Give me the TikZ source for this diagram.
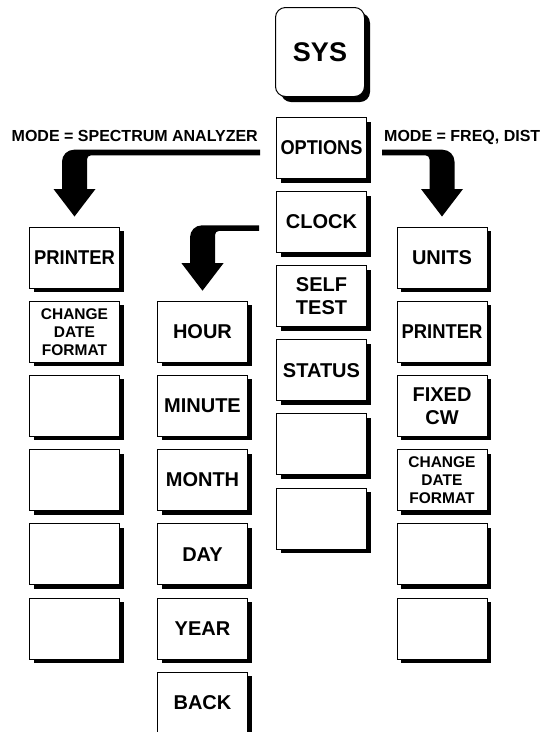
\documentclass[tikz,border=0pt]{standalone}
\usepackage{fontspec}
\setmainfont{Liberation Sans}
\usepackage{graphicx}
\usetikzlibrary{calc, shadows}

\begin{document}
\begin{tikzpicture}[
        x=1pt, y=1pt,
        keybox/.style={rectangle, draw=black, line width=1pt, fill=white, inner sep=0pt, align=center,
                       font=\bfseries\fontsize{20}{23}\selectfont},
        softkey/.style={keybox, minimum width=90pt, minimum height=61pt,
                        drop shadow={shadow xshift=4pt, shadow yshift=-4pt, fill=black, opacity=1}},
        hardkey/.style={keybox, minimum width=89pt, minimum height=89pt, rounded corners=10pt,
                        font=\bfseries\fontsize{27}{30}\selectfont,
                        drop shadow={shadow xshift=5.5pt, shadow yshift=-5.5pt, fill=black, opacity=1}},
        small/.style={font=\bfseries\fontsize{15.5}{18}\selectfont},
        mode/.style={inner sep=0pt, font=\bfseries\fontsize{16}{18}\selectfont},
        bentarrow/.style={fill=black}
    ]
    \path[use as bounding box, clip] (0,0) rectangle (544,-732);

    % hard key
    \node[hardkey] (sys) at (320,-52) {SYS};

    % SYS soft keys
    \node[softkey] (opt) at (321.5,-148) {\scalebox{0.91}[1]{OPTIONS}};
    \node[softkey] (clk) at (321.5,-222.1) {CLOCK};
    \node[softkey] (tst) at (321.5,-296.2) {SELF\\TEST};
    \node[softkey] (sta) at (321.5,-370.3) {STATUS};
    \node[softkey] (mb5) at (321.5,-444.4) {};
    \node[softkey] (mb6) at (321.5,-518.5) {};

    % options, spectrum analyzer mode
    \node[softkey] (lprn) at (74.5,-257.5) {\scalebox{0.92}[1]{PRINTER}};
    \node[softkey, small] (lcdf) at (74.5,-331.7) {CHANGE\\DATE\\FORMAT};
    \node[softkey] (lb3) at (74.5,-405.9) {};
    \node[softkey] (lb4) at (74.5,-480.1) {};
    \node[softkey] (lb5) at (74.5,-554.3) {};
    \node[softkey] (lb6) at (74.5,-628.5) {};

    % clock
    \node[softkey] (hr) at (202.5,-331.7) {HOUR};
    \node[softkey] (mi) at (202.5,-405.9) {MINUTE};
    \node[softkey] (mo) at (202.5,-480.1) {MONTH};
    \node[softkey] (dy) at (202.5,-554.3) {DAY};
    \node[softkey] (yr) at (202.5,-628.5) {YEAR};
    \node[softkey] (bk) at (202.5,-702.7) {BACK};

    % options, freq / dist mode
    \node[softkey] (un) at (442,-257.5) {UNITS};
    \node[softkey] (rprn) at (442,-331.7) {\scalebox{0.92}[1]{PRINTER}};
    \node[softkey] (fcw) at (442,-405.9) {FIXED\\CW};
    \node[softkey, small] (rcdf) at (442,-480.1) {CHANGE\\DATE\\FORMAT};
    \node[softkey] (rb5) at (442,-554.3) {};
    \node[softkey] (rb6) at (442,-628.5) {};

    \node[mode, anchor=base east] (msa) at (258,-141.5) {MODE = SPECTRUM ANALYZER};
    \node[mode, anchor=base west] (mfd) at (384,-141.5) {MODE = FREQ, DIST};

    % bent arrows
    \coordinate (sa0) at ($(opt.west)+(-16,-4.5)$);
    \coordinate (sa1) at ($(lprn.north)+(0,10)$);
    \fill[bentarrow] let \p1=(sa0), \p2=(sa1) in
        (\x1,\y1+2.8pt) -- (\x2-0.5pt,\y1+2.8pt) arc[start angle=90, end angle=180, radius=12pt]
        -- (\x2-12.5pt,\y2+27.5pt) -- (\x2-21pt,\y2+27.5pt) -- (\x2,\y2) -- (\x2+21pt,\y2+27.5pt)
        -- (\x2+12.5pt,\y2+27.5pt) -- (\x2+12.5pt,\y1-6.8pt) arc[start angle=180, end angle=90, radius=4pt]
        -- (\x1,\y1-2.8pt) -- cycle;

    \coordinate (fd0) at ($(opt.east)+(15,-4.5)$);
    \coordinate (fd1) at ($(un.north)+(0,10)$);
    \fill[bentarrow] let \p1=(fd0), \p2=(fd1) in
        (\x1,\y1+2.8pt) -- (\x2+0.5pt,\y1+2.8pt) arc[start angle=90, end angle=0, radius=12pt]
        -- (\x2+12.5pt,\y2+27.5pt) -- (\x2+21pt,\y2+27.5pt) -- (\x2,\y2) -- (\x2-21pt,\y2+27.5pt)
        -- (\x2-12.5pt,\y2+27.5pt) -- (\x2-12.5pt,\y1-6.8pt) arc[start angle=0, end angle=90, radius=4pt]
        -- (\x1,\y1-2.8pt) -- cycle;

    \coordinate (ck0) at ($(clk.west)+(-17,-6)$);
    \coordinate (ck1) at ($(hr.north)+(0,10)$);
    \fill[bentarrow] let \p1=(ck0), \p2=(ck1) in
        (\x1,\y1+2.8pt) -- (\x2-0.5pt,\y1+2.8pt) arc[start angle=90, end angle=180, radius=12pt]
        -- (\x2-12.5pt,\y2+27.5pt) -- (\x2-21pt,\y2+27.5pt) -- (\x2,\y2) -- (\x2+21pt,\y2+27.5pt)
        -- (\x2+12.5pt,\y2+27.5pt) -- (\x2+12.5pt,\y1-6.8pt) arc[start angle=180, end angle=90, radius=4pt]
        -- (\x1,\y1-2.8pt) -- cycle;
\end{tikzpicture}
\end{document}
